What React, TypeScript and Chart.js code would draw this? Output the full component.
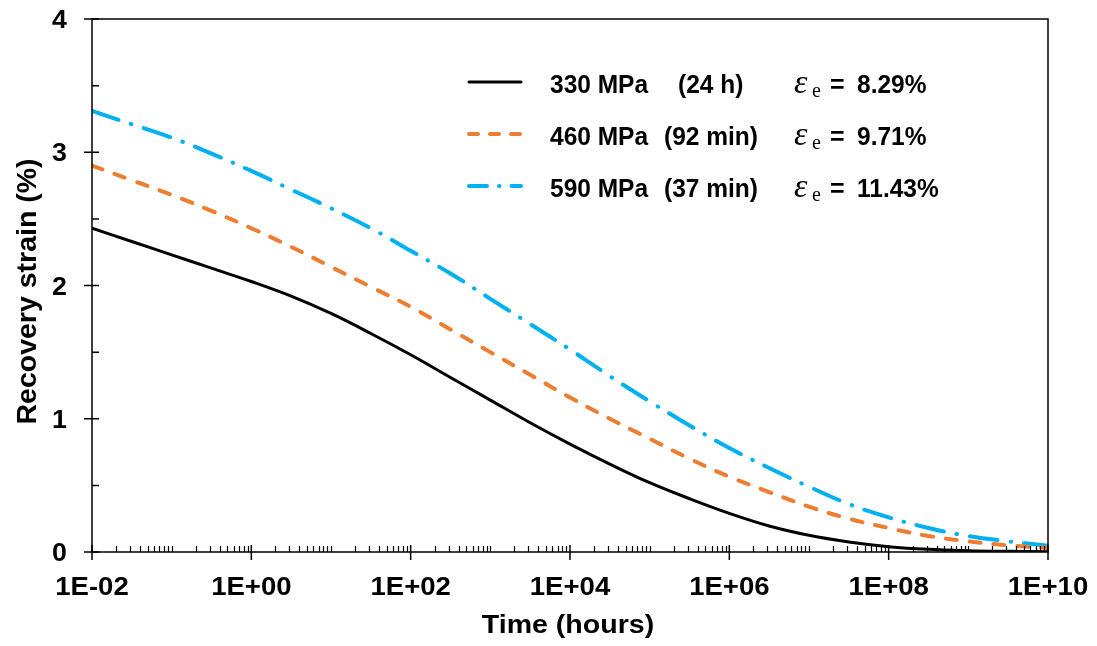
import React, { useEffect, useRef } from "react";
import { Chart, registerables } from "chart.js";

Chart.register(...registerables);

// ---- Data ----
const timeHours = [
  0.01, 0.0316, 0.1, 0.316, 1, 3.16, 10, 31.6, 100, 316, 1000, 3162, 1e4, 31623, 1e5, 316228,
  1e6, 3162278, 1e7, 31622777, 1e8, 316227766, 1e9, 3162277660, 1e10,
];
const strain330 = [
  2.43, 2.33, 2.23, 2.13, 2.03, 1.92, 1.79, 1.64, 1.48, 1.31, 1.14, 0.97, 0.81, 0.66, 0.52, 0.4,
  0.29, 0.195, 0.125, 0.075, 0.04, 0.02, 0.01, 0.005, 0.002,
];
const strain460 = [
  2.9, 2.79, 2.68, 2.56, 2.43, 2.29, 2.14, 1.99, 1.84, 1.67, 1.5, 1.33, 1.16, 1.0, 0.85, 0.7,
  0.565, 0.45, 0.34, 0.25, 0.18, 0.12, 0.08, 0.05, 0.03,
];
const strain590 = [
  3.31, 3.21, 3.11, 2.99, 2.86, 2.72, 2.58, 2.43, 2.26, 2.09, 1.9, 1.71, 1.52, 1.32, 1.13, 0.95,
  0.78, 0.63, 0.49, 0.36, 0.26, 0.18, 0.12, 0.08, 0.047,
];
const seriesStress = ["330 MPa", "460 MPa", "590 MPa"];
const seriesDuration = ["(24 h)", "(92 min)", "(37 min)"];
const seriesElastic = ["8.29%", "9.71%", "11.43%"];
const xTickValues = [0.01, 1, 100, 1e4, 1e6, 1e8, 1e10];
const xTickLabels = ["1E-02", "1E+00", "1E+02", "1E+04", "1E+06", "1E+08", "1E+10"];
const yTickValues = [0, 1, 2, 3, 4];
const yTickLabels = ["0", "1", "2", "3", "4"];
const yMinorValues = [0.5, 1.5, 2.5, 3.5];
const xTitle = "Time (hours)";
const yTitle = "Recovery strain (%)";

const SANS = '"Liberation Sans", Arial, sans-serif';
const SERIF = '"Liberation Serif", "Times New Roman", serif';

function drawText(ctx: CanvasRenderingContext2D, text: string, x: number, y: number, font: string, align: string, sx: number) {
  ctx.save();
  ctx.font = font;
  ctx.textAlign = "left";
  ctx.textBaseline = "alphabetic";
  const w = ctx.measureText(text).width * sx;
  const x0 = align === "center" ? x - w / 2 : align === "right" ? x - w : x;
  ctx.translate(x0, y);
  ctx.scale(sx, 1);
  ctx.fillText(text, 0, 0);
  ctx.restore();
}

const framePlugin = {
  id: "frameAndLegend",
  afterDatasetsDraw(chart: any) {
    const { ctx, chartArea } = chart;
    const { left, right, top, bottom } = chartArea;
    const xs = chart.scales.x;
    const ys = chart.scales.y;
    ctx.save();
    ctx.strokeStyle = "#000";
    ctx.fillStyle = "#000";
    ctx.lineWidth = 1.5;
    ctx.lineCap = "butt";
    ctx.beginPath();
    ctx.rect(left, top, right - left, bottom - top);
    ctx.stroke();

    // x minor ticks (inside)
    ctx.lineWidth = 1.2;
    ctx.beginPath();
    for (let e = -2; e < 10; e++) {
      for (let m = 2; m <= 10; m++) {
        if (m === 10 && (e + 1) % 2 === 0) continue;
        const v = m * Math.pow(10, e);
        const px = Math.round(xs.getPixelForValue(v)) + 0.5;
        ctx.moveTo(px, bottom);
        ctx.lineTo(px, bottom - 6);
      }
    }
    ctx.stroke();
    // major ticks (crossing)
    ctx.lineWidth = 1.5;
    ctx.beginPath();
    for (const v of xTickValues) {
      const px = xs.getPixelForValue(v);
      ctx.moveTo(px, bottom - 7);
      ctx.lineTo(px, bottom + 8);
    }
    for (const v of yTickValues) {
      const py = ys.getPixelForValue(v);
      ctx.moveTo(left - 8, py);
      ctx.lineTo(left + 7, py);
    }
    for (const v of yMinorValues) {
      const py = ys.getPixelForValue(v);
      ctx.moveTo(left, py);
      ctx.lineTo(left + 7, py);
    }
    ctx.stroke();

    // tick labels
    const tickFont = `bold 25.5px ${SANS}`;
    xTickValues.forEach((v, i) => {
      drawText(ctx, xTickLabels[i], xs.getPixelForValue(v), bottom + 43, tickFont, "center", 1.08);
    });
    yTickValues.forEach((v, i) => {
      drawText(ctx, yTickLabels[i], left - 25, ys.getPixelForValue(v) + 9, tickFont, "right", 1.05);
    });

    // axis titles
    drawText(ctx, xTitle, (left + right) / 2 - 2, bottom + 81, `bold 25.5px ${SANS}`, "center", 1.12);
    ctx.save();
    ctx.translate(36, (top + bottom) / 2 + 6);
    ctx.rotate(-Math.PI / 2);
    drawText(ctx, yTitle, 0, 0, `bold 28.5px ${SANS}`, "center", 1.0);
    ctx.restore();

    // legend
    const rowY = [82, 134, 186];
    const durX = [678, 664, 664];
    chart.data.datasets.forEach((ds: any, i: number) => {
      const y = rowY[i];
      ctx.save();
      ctx.strokeStyle = ds.borderColor;
      ctx.lineWidth = ds.borderWidth;
      ctx.lineCap = "round";
      ctx.setLineDash(ds.legendDash || []);
      ctx.beginPath();
      ctx.moveTo(469, y);
      ctx.lineTo(521, y);
      ctx.stroke();
      ctx.restore();

      const base = y + 11;
      const f = `bold 25px ${SANS}`;
      drawText(ctx, seriesStress[i], 550, base, f, "left", 0.98);
      drawText(ctx, seriesDuration[i], durX[i], base, f, "left", 0.98);
      drawText(ctx, "\u03b5", 794, base, `italic 34px ${SERIF}`, "left", 1.0);
      drawText(ctx, "e", 812, base + 4, `20px ${SERIF}`, "left", 1.0);
      drawText(ctx, "=", 830, base, f, "left", 1.0);
      drawText(ctx, seriesElastic[i], 857, base, f, "left", 0.98);
    });
    ctx.restore();
  },
};

export default function App() {
  const ref = useRef<HTMLCanvasElement | null>(null);
  useEffect(() => {
    if (!ref.current) return;
    const mk = (arr: number[]) => timeHours.map((t, i) => ({ x: t, y: arr[i] }));
    const noPad = (s: any) => {
      s.paddingTop = 0;
      s.paddingBottom = 0;
      s.paddingLeft = 0;
      s.paddingRight = 0;
    };
    const chart = new Chart(ref.current, {
      type: "line",
      data: {
        datasets: [
          {
            label: seriesStress[0],
            data: mk(strain330),
            borderColor: "#000000",
            borderWidth: 3,
            pointRadius: 0,
            tension: 0.4,
            legendDash: [],
          } as any,
          {
            label: seriesStress[1],
            data: mk(strain460),
            borderColor: "#ED7D31",
            borderWidth: 4,
            borderDash: [11, 13],
            borderCapStyle: "round",
            pointRadius: 0,
            tension: 0.4,
            legendDash: [9, 12],
          } as any,
          {
            label: seriesStress[2],
            data: mk(strain590),
            borderColor: "#00B0F0",
            borderWidth: 4,
            borderDash: [28, 13, 0.5, 13],
            borderCapStyle: "round",
            pointRadius: 0,
            tension: 0.4,
            legendDash: [18, 12, 0.5, 12],
          } as any,
        ],
      },
      options: {
        responsive: false,
        animation: false,
        layout: { padding: { top: 19, right: 49, left: 0, bottom: 0 } },
        plugins: { legend: { display: false }, tooltip: { enabled: false } },
        scales: {
          x: {
            type: "logarithmic",
            min: 0.01,
            max: 1e10,
            afterBuildTicks: (s: any) => {
              s.ticks = xTickValues.map((v) => ({ value: v }));
            },
            afterFit: (s: any) => {
              s.height = 94;
              noPad(s);
            },
            grid: { display: false, drawTicks: false },
            border: { display: false },
            ticks: { display: false },
            title: { display: false },
          },
          y: {
            min: 0,
            max: 4,
            afterBuildTicks: (s: any) => {
              s.ticks = yTickValues.map((v) => ({ value: v }));
            },
            afterFit: (s: any) => {
              s.width = 92;
              noPad(s);
            },
            grid: { display: false, drawTicks: false },
            border: { display: false },
            ticks: { display: false },
            title: { display: false },
          },
        },
      } as any,
      plugins: [framePlugin],
    });
    return () => chart.destroy();
  }, []);
  return (
    <div style={{ position: "fixed", left: 0, top: 0, width: 1097, height: 646, background: "#fff" }}>
      <canvas ref={ref} width={1097} height={646} style={{ display: "block" }} />
    </div>
  );
}
